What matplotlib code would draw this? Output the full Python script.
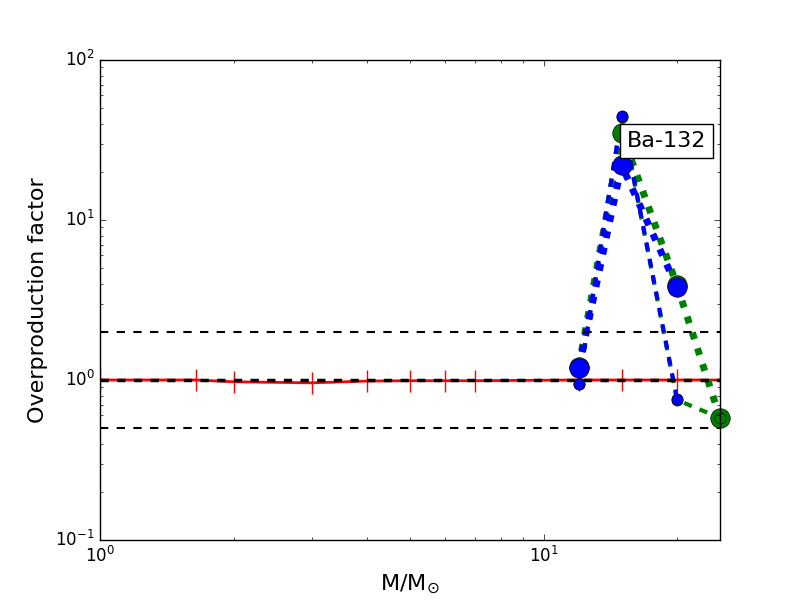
import matplotlib
matplotlib.use('Agg')
import matplotlib.pyplot as plt
from matplotlib.ticker import NullFormatter

plt.style.use('classic')
plt.rcParams['lines.scale_dashes'] = False
plt.rcParams['mathtext.fontset'] = 'dejavusans'
plt.rcParams['figure.facecolor'] = 'white'

# reference (solar-scaled) track, red
mass_ref = [1.0, 1.65, 2, 3, 4, 5, 6, 7, 12, 15, 20, 25]
op_ref = [1.0, 1.0, 0.975, 0.96, 0.985, 0.99, 0.99, 0.99, 1.0, 1.0, 1.0, 1.0]

# massive star models
mass_green = [12, 15, 20, 25]
green_big = [1.2, 35, 3.9, 0.58]
green_small = [0.94, 44, 0.75, 0.58]

mass_blue = [12, 15, 20]
blue_big = [1.18, 22, 3.8]
blue_small = [0.94, 44.5, 0.76]

guide_levels = [0.5, 1.0, 2.0]
guide_widths = [1.5, 2.5, 1.5]

fig = plt.figure(figsize=(8, 6), dpi=100)
ax = fig.add_subplot(111)
ax.set_xscale('log')
ax.set_yscale('log')

ax.plot(mass_ref, op_ref, '-', color='red', lw=2, marker='|', ms=16, mew=1,
        mec='red')

# lines first
ax.plot(mass_green, green_big, color='green', lw=5, dashes=(5, 7))
ax.plot(mass_green, green_small, color='green', lw=3, dashes=(6, 6))
ax.plot(mass_blue, blue_big, color='blue', lw=5, dashes=(5, 7))
ax.plot(mass_blue, blue_small, color='blue', lw=3, dashes=(6, 6))

for lev, w in zip(guide_levels, guide_widths):
    ax.axhline(lev, color='black', lw=w, dashes=(6, 6))

# markers on top
ax.plot(mass_green, green_big, 'o', color='green', ms=14, mec='black', mew=0.5,
        clip_on=False)
ax.plot(mass_green, green_small, 'o', color='green', ms=8, mec='black', mew=0.5,
        clip_on=False)
ax.plot(mass_blue, blue_big, 'o', color='blue', ms=14, mec='black', mew=0.5)
ax.plot(mass_blue, blue_small, 'o', color='blue', ms=8, mec='black', mew=0.5)

ax.set_xlim(1, 25)
ax.set_ylim(0.1, 100)
ax.xaxis.set_minor_formatter(NullFormatter())
ax.yaxis.set_minor_formatter(NullFormatter())
ax.tick_params(labelsize=12)

ax.set_xlabel(r'M/M$_{\odot}$', fontsize=16)
ax.set_ylabel('Overproduction factor', fontsize=16)

ax.text(0.85, 0.831, 'Ba-132', transform=ax.transAxes, fontsize=16,
        ha='left', va='center',
        bbox=dict(facecolor='white', edgecolor='black', pad=5))

fig.subplots_adjust(left=0.125, right=0.9, bottom=0.1, top=0.9)
fig.savefig('out.png', dpi=100, facecolor='white')
